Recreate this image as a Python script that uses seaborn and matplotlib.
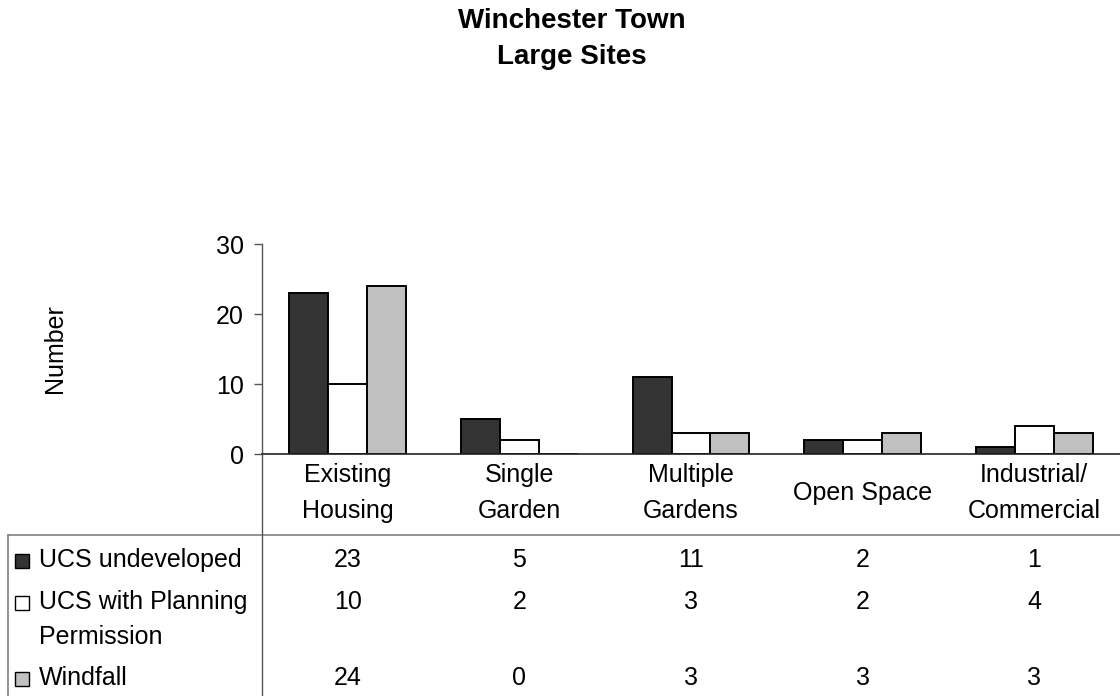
import matplotlib
matplotlib.use("Agg")
import matplotlib.pyplot as plt
from matplotlib.lines import Line2D
from matplotlib.patches import Rectangle
import pandas as pd
import seaborn as sns

# ---- data ----
categories = ["Existing\nHousing", "Single\nGarden", "Multiple\nGardens",
              "Open Space", "Industrial/\nCommercial"]
series_names = ["UCS undeveloped", "UCS with Planning\nPermission", "Windfall"]
ucs_undeveloped = [23, 5, 11, 2, 1]
ucs_with_pp = [10, 2, 3, 2, 4]
windfall = [24, 0, 3, 3, 3]
y_ticks = [0, 10, 20, 30]
colors = ["#333333", "#FFFFFF", "#C0C0C0"]

series_values = [ucs_undeveloped, ucs_with_pp, windfall]
rows = []
for name, vals in zip(series_names, series_values):
    for cat, v in zip(categories, vals):
        rows.append({"category": cat, "series": name, "value": v})
df = pd.DataFrame(rows)

W, H = 1120, 696
FS = 18
sns.set_theme(style="white")
plt.rcParams["font.family"] = ["Liberation Sans", "DejaVu Sans"]
plt.rcParams["text.color"] = "black"
plt.rcParams["ytick.color"] = "black"

fig = plt.figure(figsize=(W / 100, H / 100), dpi=100)


def fx(x):
    return x / W


def fy(y):
    return 1 - y / H


ax_left, ax_right, ax_top, ax_bottom = 262, 1120, 244, 454
ax = fig.add_axes([fx(ax_left), fy(ax_bottom),
                   fx(ax_right - ax_left), (ax_bottom - ax_top) / H])

sns.barplot(data=df, x="category", y="value", hue="series",
            order=categories, hue_order=series_names,
            palette=colors, edgecolor="black", linewidth=1.4,
            width=0.68, saturation=1, ax=ax, legend=False)

ax.set_xlim(-0.5, len(categories) - 0.5)
ax.set_ylim(0, 30)
ax.set_yticks(y_ticks)
ax.set_yticklabels([str(t) for t in y_ticks], fontsize=FS)
ax.set_xticks([])
ax.set_xlabel("")
ax.set_ylabel("")
ax.tick_params(axis="y", which="both", left=True, direction="out",
               length=6, width=1, color="#555555", labelcolor="black", pad=7)
for s in ["top", "right"]:
    ax.spines[s].set_visible(False)
ax.spines["left"].set_color("#555555")
ax.spines["bottom"].set_color("#222222")
ax.spines["left"].set_linewidth(1.0)
ax.spines["bottom"].set_linewidth(1.2)
ax.set_facecolor("white")

# ---- title and axis label ----
fig.text(fx(572), fy(21), "Winchester Town", ha="center", va="center",
         fontsize=20, fontweight="bold")
fig.text(fx(572), fy(57), "Large Sites", ha="center", va="center",
         fontsize=20, fontweight="bold")
fig.text(fx(55), fy(349), "Number", ha="center", va="center",
         rotation=90, fontsize=FS)

# ---- data table grid ----
grid_color = "#808080"
fig.add_artist(Line2D([fx(8), fx(W)], [fy(535), fy(535)],
                      color=grid_color, lw=1.2))
fig.add_artist(Line2D([fx(ax_left), fx(ax_left)], [fy(ax_bottom), fy(H)],
                      color="#555555", lw=1.0))
fig.add_artist(Line2D([fx(8), fx(8)], [fy(535), fy(H)],
                      color=grid_color, lw=1.2))

# category labels under the axis
col_w = (ax_right - ax_left) / len(categories)
col_centers = [ax_left + col_w * (i + 0.5) for i in range(len(categories))]
for cx, cat in zip(col_centers, categories):
    fig.text(fx(cx), fy(493), cat, ha="center", va="center",
             fontsize=FS, linespacing=1.6)

# table rows: legend key, series name, values
row_y = [560, 602, 678]
for name, vals, col, ry in zip(series_names, series_values, colors, row_y):
    fig.add_artist(Rectangle((fx(15), fy(ry + 8)), fx(14), 14 / H,
                             facecolor=col, edgecolor="black", lw=1.0))
    lines = name.split("\n")
    for k, line in enumerate(lines):
        fig.text(fx(39), fy(ry + 35 * k), line, ha="left", va="center",
                 fontsize=FS)
    for cx, v in zip(col_centers, vals):
        fig.text(fx(cx), fy(ry), str(v), ha="center", va="center", fontsize=FS)

fig.savefig("out.png", dpi=100, facecolor="white")
